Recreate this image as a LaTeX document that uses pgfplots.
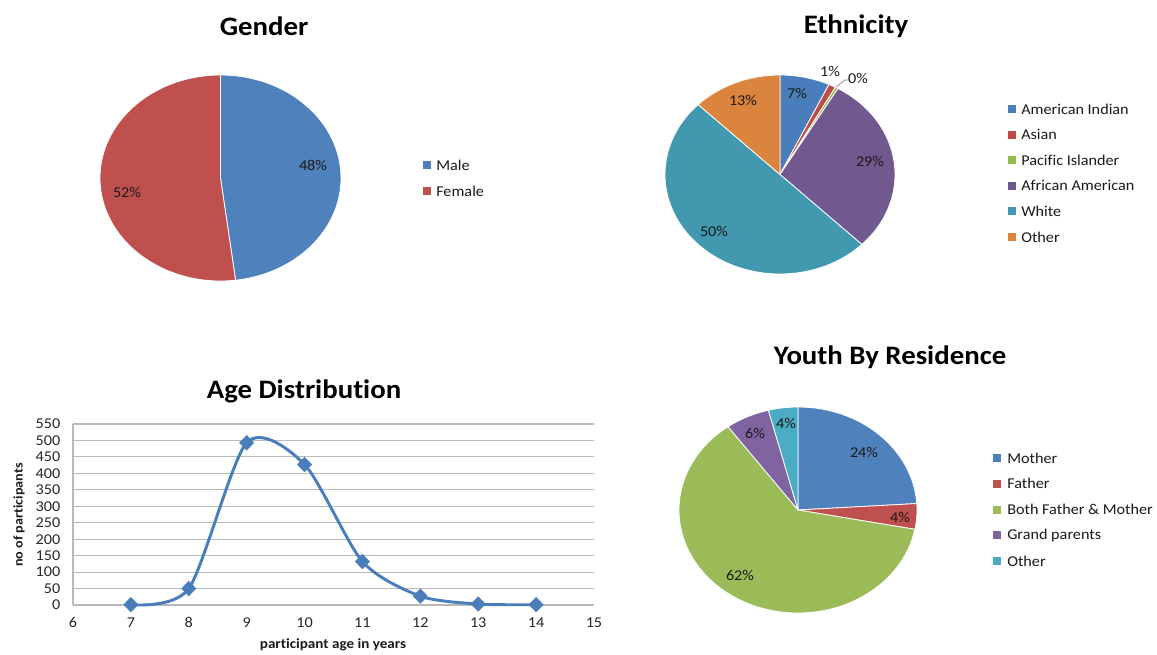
\documentclass[border=0pt]{standalone}
\usepackage{pgfplots}
\pgfplotsset{compat=1.18}
\usepackage{fontspec}
\setmainfont{Carlito}[FakeStretch=1.08, Ligatures={NoCommon}]

\definecolor{cBlue}{HTML}{4F81BD}
\definecolor{cRed}{HTML}{C0504D}
\definecolor{cGreen}{HTML}{9BBB59}
\definecolor{cPurple}{HTML}{8064A2}
\definecolor{cAqua}{HTML}{4BACC6}
\definecolor{eBlue}{HTML}{4A7EBB}
\definecolor{eRed}{HTML}{BE4B48}
\definecolor{eGreen}{HTML}{98B954}
\definecolor{ePurple}{HTML}{71588F}
\definecolor{eAqua}{HTML}{4198AF}
\definecolor{eOrange}{HTML}{DB843D}
\definecolor{cLine}{HTML}{4A7EBB}
\definecolor{txt}{HTML}{1A1A1A}

\newcommand\pieinit[2]{\xdef\piecum{0}\xdef\pierx{#1}\xdef\piery{#2}}
\newcommand\pieslice[2]{%
  \pgfmathsetmacro\sa{90-3.6*\piecum}%
  \pgfmathsetmacro\ea{90-3.6*(\piecum+#1)}%
  \pgfmathsetmacro\newcum{\piecum+#1}\xdef\piecum{\newcum}%
  \edef\tmp{\noexpand\fill[#2,draw=white,line width=0.6pt,line join=round] (axis cs:0,0) -- (axis cs:{cos(\sa)},{sin(\sa)}) arc[start angle=\sa,end angle=\ea,x radius=\pierx,y radius=\piery] -- cycle;}%
  \tmp}

\pgfplotsset{pie/.style={hide axis, scale only axis, xmin=-1,xmax=1,ymin=-1,ymax=1, clip=false, anchor=center}}

\newcommand\ttl{\fontsize{20}{22}\selectfont\bfseries}
\newcommand\lbl{\fontsize{11.25}{12}\selectfont}

\begin{document}
\begin{tikzpicture}[x=0.75pt,y=0.75pt]
\useasboundingbox (0,0) rectangle (1157,-654);

% ---------------- Gender ----------------
\pieinit{90.375pt}{77.25pt}
\begin{axis}[pie, at={(165.375pt,-133.5pt)}, width=180.75pt, height=154.5pt]
\pieslice{48}{cBlue}
\pieslice{52}{cRed}
\end{axis}
\node[font=\ttl] at (264,-26) {Gender};
\node[font=\lbl, text=txt] at (313,-165) {48\%};
\node[font=\lbl, text=txt] at (127,-192) {52\%};
\fill[cBlue] (423,-161) rectangle (431,-169);
\node[font=\lbl, text=txt, anchor=west, inner sep=0pt] at (436,-165) {Male};
\fill[cRed] (423,-187) rectangle (431,-195);
\node[font=\lbl, text=txt, anchor=west, inner sep=0pt] at (436,-191) {Female};

% ---------------- Ethnicity ----------------
\pieinit{86.25pt}{74.625pt}
\begin{axis}[pie, at={(585pt,-130.875pt)}, width=172.5pt, height=149.25pt]
\pieslice{7}{eBlue}
\pieslice{1}{eRed}
\pieslice{0.4}{eGreen}
\pieslice{29}{ePurple}
\pieslice{50}{eAqua}
\pieslice{12.6}{eOrange}
\end{axis}
\node[font=\ttl] at (856,-26) {Ethnicity};
\node[font=\lbl, text=txt] at (797,-93) {7\%};
\node[font=\lbl, text=txt] at (830,-71) {1\%};
\draw[gray, line width=0.5pt] (836,-87) -- (845,-80) -- (849,-80);
\node[font=\lbl, text=txt] at (858,-78) {0\%};
\node[font=\lbl, text=txt] at (870,-161) {29\%};
\node[font=\lbl, text=txt] at (714,-231) {50\%};
\node[font=\lbl, text=txt] at (743,-100) {13\%};
\foreach \c/\t [count=\i from 0] in {eBlue/American Indian, eRed/Asian, eGreen/Pacific Islander, ePurple/African American, eAqua/White, eOrange/Other}{
  \pgfmathsetmacro\yy{-109-25.6*\i}
  \fill[\c] (1008,\yy+4) rectangle (1016,\yy-4);
  \node[font=\lbl, text=txt, anchor=west, inner sep=0pt] at (1021,\yy) {\t};
}

% ---------------- Age Distribution ----------------
\begin{axis}[at={(54.75pt,-453.75pt)}, anchor=south west, scale only axis,
  width=390.75pt, height=135.75pt,
  xmin=6, xmax=15, ymin=0, ymax=550,
  xtick={6,...,15}, ytick={0,50,...,550},
  ymajorgrids, grid style={draw=gray!55, line width=0.8pt},
  axis lines=left, axis line style={draw=gray!55, line width=0.8pt, -},
  major tick length=0pt,
  tick label style={font=\lbl, text=black!85},
  yticklabel style={xshift=-6pt},
  xticklabel style={yshift=-6pt},
  /pgf/number format/assume math mode=true,
  clip=false]
\addplot[color=cLine, line width=2.2pt, smooth, tension=0.45, mark=diamond*, mark size=4.2pt, mark options={solid, fill=cLine, xscale=1.3}]
  coordinates {(7,1) (8,50) (9,493) (10,427) (11,132) (12,27) (13,3) (14,1)};
\end{axis}
\node[font=\ttl] at (304,-391) {Age Distribution};
\node[font=\fontsize{9.8}{11}\selectfont\bfseries, rotate=90, text=txt] at (19,-515) {no of participants};
\node[font=\fontsize{10.5}{12}\selectfont\bfseries, text=txt] at (333,-645) {participant age in years};

% ---------------- Youth By Residence ----------------
\pieinit{89.25pt}{77.25pt}
\begin{axis}[pie, at={(598.5pt,-382.5pt)}, width=178.5pt, height=154.5pt]
\pieslice{24}{cBlue}
\pieslice{4}{cRed}
\pieslice{62}{cGreen}
\pieslice{6}{cPurple}
\pieslice{4}{cAqua}
\end{axis}
\node[font=\ttl] at (890,-357) {Youth By Residence};
\node[font=\lbl, text=txt] at (864,-452) {24\%};
\node[font=\lbl, text=txt] at (900,-517) {4\%};
\node[font=\lbl, text=txt] at (740,-575) {62\%};
\node[font=\lbl, text=txt] at (755,-433) {6\%};
\node[font=\lbl, text=txt] at (786,-423) {4\%};
\foreach \c/\t [count=\i from 0] in {cBlue/Mother, cRed/Father, cGreen/Both Father \& Mother, cPurple/Grand parents, cAqua/Other}{
  \pgfmathsetmacro\yy{-458-25.75*\i}
  \fill[\c] (993,\yy+4) rectangle (1001,\yy-4);
  \node[font=\lbl, text=txt, anchor=west, inner sep=0pt] at (1007,\yy) {\t};
}
\end{tikzpicture}
\end{document}
